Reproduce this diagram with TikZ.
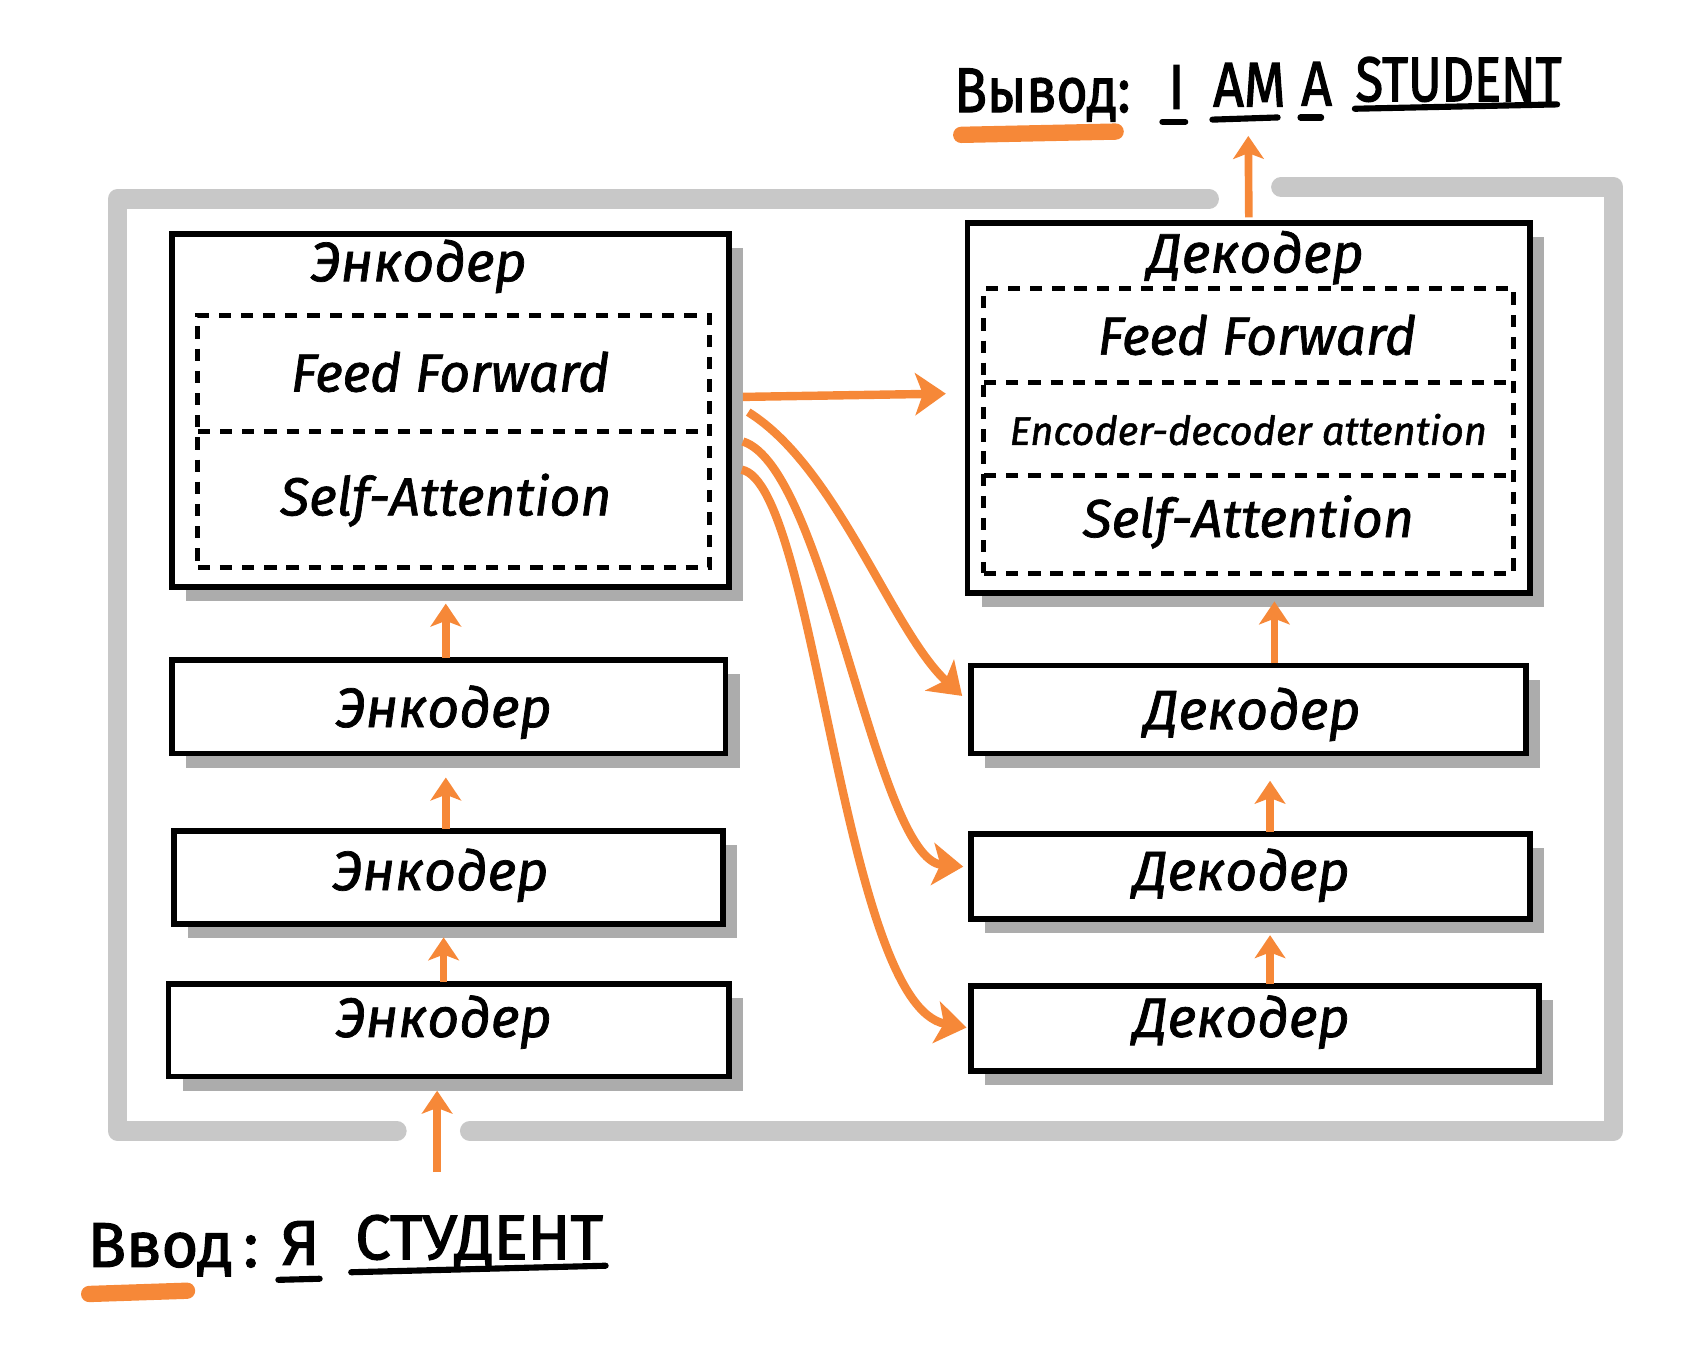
\documentclass[tikz,border=0pt]{standalone}
\usepackage{graphicx}
\usepackage{fontspec}
\setmainfont{Fira Sans}
\newfontfamily\hand{Fira Sans}[FakeBold=1.3]
\newfontfamily\handc{Fira Sans}[FakeBold=2]
\usetikzlibrary{arrows.meta,shadows,calc}
\definecolor{org}{RGB}{246,136,56}
\definecolor{frm}{RGB}{200,200,200}
\definecolor{shd}{RGB}{172,172,172}
\newcommand{\nar}[1]{\scalebox{0.85}[1]{#1}}
\newcommand{\narr}[1]{\scalebox{0.8}[1]{#1}}
\begin{document}
\begin{tikzpicture}[x=0.01cm,y=-0.01cm,
  frame/.style={draw=frm,line width=0.18cm,line cap=round,line join=round},
  box/.style={draw=black,line width=1.5pt,fill=white,inner sep=0pt,outer sep=0pt,
    drop shadow={shadow xshift=0.13cm,shadow yshift=-0.13cm,fill=shd,opacity=1}},
  dbox/.style={draw=black,line width=1.3pt,dash pattern=on 3.2pt off 2.6pt,inner sep=0pt,outer sep=0pt},
  dline/.style={draw=black,line width=1.3pt,dash pattern=on 3.2pt off 2.6pt},
  lbl/.style={font=\fontsize{14.5}{16}\hand\itshape,inner sep=0pt},
  sub/.style={font=\fontsize{14}{16}\hand\itshape,inner sep=0pt},
  subs/.style={font=\fontsize{10.4}{13}\hand\itshape,inner sep=0pt},
  caps/.style={font=\fontsize{16.5}{18}\handc,inner sep=0pt},
  varr/.style={draw=org,line width=2pt,-{Stealth[length=6pt,width=8pt,inset=1.5pt]}},
  carr/.style={draw=org,line width=2.2pt,-{Stealth[length=8pt,width=11pt,inset=2pt]}},
  uline/.style={draw=black,line width=1.6pt,line cap=round},
  oline/.style={draw=org,line width=0.15cm,line cap=round}]
\useasboundingbox (0,0) rectangle (1568,1244);

% outer frame
\draw[frame] (1112,183) -- (108,183) -- (108,1040) -- (365,1040);
\draw[frame] (1178,172) -- (1484,172) -- (1484,1040) -- (432,1040);

% encoder stack
\node[box,minimum width=5.12cm,minimum height=3.25cm] (enc4) at (414,377.5) {};
\node[box,minimum width=5.09cm,minimum height=0.86cm] (enc3) at (412.5,650) {};
\node[box,minimum width=5.05cm,minimum height=0.86cm] (enc2) at (412.5,807) {};
\node[box,minimum width=5.15cm,minimum height=0.85cm] (enc1) at (412.5,947.5) {};
\node[dbox,minimum width=4.70cm,minimum height=2.32cm] (encsub) at (417,406) {};
\draw[dline] (182,397) -- (652,397);

\node[lbl] (tenc4) at (385,245) {Энкодер};
\node[sub] (encff) at (414,342) {Feed Forward};
\node[sub] (encsa) at (410,460) {Self-Attention};
\node[lbl] (tenc3) at (408,655) {Энкодер};
\node[lbl] (tenc2) at (405,805) {Энкодер};
\node[lbl] (tenc1) at (408,940) {Энкодер};

% decoder stack
\node[box,minimum width=5.17cm,minimum height=3.40cm] (dec4) at (1148.5,375) {};
\node[box,minimum width=5.10cm,minimum height=0.81cm] (dec3) at (1148,652.5) {};
\node[box,minimum width=5.14cm,minimum height=0.78cm] (dec2) at (1150,806) {};
\node[box,minimum width=5.22cm,minimum height=0.78cm] (dec1) at (1154,946) {};
\node[dbox,minimum width=4.87cm,minimum height=2.62cm] (decsub) at (1148.5,396) {};
\draw[dline] (905,352) -- (1392,352);
\draw[dline] (905,437) -- (1392,437);

\node[lbl] (tdec4) at (1155,237) {Декодер};
\node[sub] (decff) at (1156,308) {Feed Forward};
\node[subs] (decea) at (1148,395) {Encoder-decoder attention};
\node[sub] (decsa) at (1148,480) {Self-Attention};
\node[lbl] (tdec3) at (1152,657) {Декодер};
\node[lbl] (tdec2) at (1142,805) {Декодер};
\node[lbl] (tdec1) at (1142,940) {Декодер};

% vertical arrows
\coordinate (in) at (402,1078);
\coordinate (out) at (1148,125);
\draw[varr] (in) -- ($(enc1.south)+(-10.5,13)$);
\draw[varr] ($(enc1.north)+(-4.5,-2)$) -- ($(enc2.south)+(-4.5,12)$);
\draw[varr] ($(enc2.north)+(-2.5,-2)$) -- ($(enc3.south)+(-2.5,22)$);
\draw[varr] ($(enc3.north)+(-2.5,-2)$) -- ($(enc4.south)+(-4,15)$);
\draw[varr] ($(dec1.north)+(14,-2)$) -- ($(dec2.south)+(18,15)$);
\draw[varr] ($(dec2.north)+(18,-2)$) -- ($(dec3.south)+(20,25)$);
\draw[varr] ($(dec3.north)+(24,-2)$) -- ($(dec4.south)+(23.5,8)$);
\draw[varr] ($(dec4.north)+(0,-5)$) -- (out);

% encoder -> decoder arrows
\draw[carr] ($(enc4.east)+(13,-12.5)$) -- ($(dec4.west)+(-20,-13)$);
\draw[carr] ($(enc4.east)+(18,1.5)$) .. controls (770,430) and (820,580) .. ($(dec3.west)+(-8,-12.5)$);
\draw[carr] ($(enc4.east)+(13,28.5)$) .. controls (760,430) and (805,790) .. ($(dec2.west)+(-7,-9)$);
\draw[carr] ($(enc4.east)+(12,54.5)$) .. controls (750,445) and (775,925) .. ($(dec1.west)+(-4,-1)$);

% output text
\node[caps,anchor=base west] (vyvod) at (877,103) {\nar{Вывод:}};
\node[caps,anchor=base west] (wI) at (1074,100) {\nar{I}};
\node[caps,anchor=base west] (wAM) at (1115,98) {\nar{AM}};
\node[caps,anchor=base west] (wA) at (1196,97) {\nar{A}};
\node[caps,anchor=base west] (wST) at (1246,93) {\narr{STUDENT}};
\draw[oline] (884,124) -- (1026,121);
\draw[uline] (1069,112) -- (1090,112);
\draw[uline] (1115,110) -- (1175,108);
\draw[uline] (1196,108) -- (1215,108);
\draw[uline] (1246,100) -- (1432,96);

% input text
\node[caps,anchor=base west] (vvod) at (80,1165) {Ввод\,:};
\node[caps,anchor=base west] (wYa) at (258,1163) {Я};
\node[caps,anchor=base west] (wStud) at (326,1158) {СТУДЕНТ};
\draw[oline] (82,1190) -- (172,1187);
\draw[uline] (256,1177) -- (294,1176);
\draw[uline] (323,1170) -- (557,1164);
\end{tikzpicture}
\end{document}
